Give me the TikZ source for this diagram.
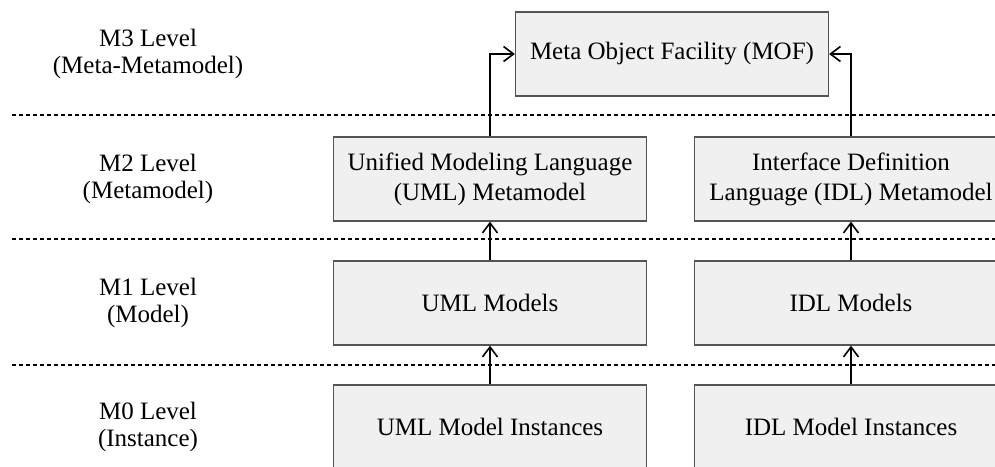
\documentclass[tikz,border=0pt]{standalone}
\usepackage{fontspec}
\setmainfont{Liberation Serif}
\usetikzlibrary{arrows.meta,positioning}
\definecolor{BoxGray}{RGB}{240,240,240}
\definecolor{EdgeGray}{RGB}{85,85,85}
\tikzset{
  metabox/.style={draw=EdgeGray,fill=BoxGray,line width=0.6pt,minimum width=156.5pt,minimum height=42pt,inner sep=0pt,align=center,font=\fontsize{12.5}{15}\selectfont},
  levellabel/.style={align=center,font=\fontsize{12.5}{13.5}\selectfont},
  levelsep/.style={line width=1pt,dash pattern=on 2pt off 1.5pt},
  upflow/.style={line width=0.8pt,-{Straight Barb[length=5pt,width=7.5pt]}}
}

\begin{document}
\begin{tikzpicture}[x=0.5pt,y=-0.5pt]
\useasboundingbox (0,0) rectangle (995,466);
\clip (0,0) rectangle (995,466);
% level separators
\foreach \y in {115,239,365}{\draw[levelsep] (12,\y) -- (995,\y);}
% level labels
\foreach \n/\y/\a/\b in {m3/54/M3 Level/(Meta-Metamodel),m2/179/M2 Level/(Metamodel),m1/303/M1 Level/(Model),m0/427/M0 Level/(Instance)}{\node[levellabel] (\n) at (148,\y) {\a\\\b};}
% models
\node[metabox] (mof) at (672,54) {Meta Object Facility (MOF)};
\node[metabox] (umlmeta) at (490,179) {Unified Modeling Language\\(UML) Metamodel};
\node[metabox] (idlmeta) at (851,179) {Interface Definition\\Language (IDL) Metamodel};
\node[metabox] (umlmod) at (490,303) {UML Models};
\node[metabox] (idlmod) at (851,303) {IDL Models};
\node[metabox] (umlinst) at (490,427) {UML Model Instances};
\node[metabox] (idlinst) at (851,427) {IDL Model Instances};
% conformance arrows
\draw[upflow] (umlinst) -- (umlmod);
\draw[upflow] (idlinst) -- (idlmod);
\draw[upflow] (umlmod) -- (umlmeta);
\draw[upflow] (idlmod) -- (idlmeta);
\draw[upflow] (umlmeta.north) |- (mof.west);
\draw[upflow] (idlmeta.north) |- (mof.east);
\end{tikzpicture}
\end{document}
